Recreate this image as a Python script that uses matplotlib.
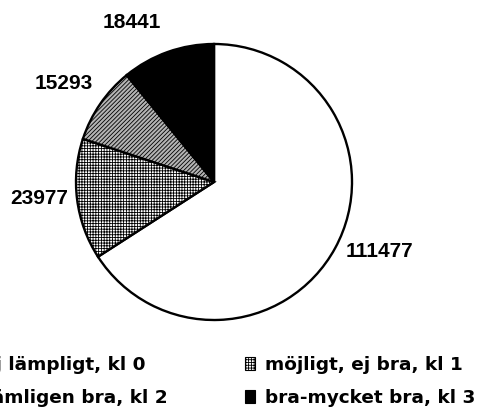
import matplotlib
matplotlib.use("Agg")
import matplotlib.pyplot as plt

categories = ["ej lämpligt, kl 0", "möjligt, ej bra, kl 1", "tämligen bra, kl 2", "bra-mycket bra, kl 3"]
values = [111477, 23977, 15293, 18441]
value_labels = [str(v) for v in values]

colors = ["white", "white", "#b4b4b4", "black"]
hatches = ["", "++++++", "////////", ""]

plt.rcParams["hatch.linewidth"] = 0.6

W, H = 484, 416
fig = plt.figure(figsize=(W / 100, H / 100), dpi=100)
fig.patch.set_facecolor("white")

cx, cy, r = 214, 182, 138
ax = fig.add_axes([(cx - r) / W, (H - cy - r) / H, 2 * r / W, 2 * r / H])

wedges, texts = ax.pie(
    values,
    labels=value_labels,
    startangle=90,
    counterclock=False,
    colors=colors,
    hatch=hatches,
    wedgeprops=dict(edgecolor="black", linewidth=1.7),
    textprops=dict(family="Liberation Sans", fontweight="bold", fontsize=15, color="black"),
    labeldistance=1.2,
)
ax.set_xlim(-1, 1)
ax.set_ylim(-1, 1)
ax.set_aspect("equal")
ax.axis("off")

# label placement (data units, radius = 1)
label_pos = [(1.196, -0.507), (-1.268, -0.116), (-1.087, 0.717), (-0.598, 1.159)]
for t, (x, y) in zip(texts, label_pos):
    t.set_position((x, y))
    t.set_ha("center")
    t.set_va("center")

leg_kw = dict(
    loc="upper left",
    frameon=False,
    borderpad=0,
    borderaxespad=0,
    handlelength=0.55,
    handleheight=0.7,
    handletextpad=0.55,
    labelspacing=0.83,
    prop=dict(family="DejaVu Sans", weight="bold", size=13.3),
    bbox_transform=fig.transFigure,
)
leg1 = fig.legend([wedges[0], wedges[2]], [categories[0], categories[2]],
                  bbox_to_anchor=(-37 / W, 1 - 356 / H), **leg_kw)
leg2 = fig.legend([wedges[1], wedges[3]], [categories[1], categories[3]],
                  bbox_to_anchor=(245 / W, 1 - 356 / H), **leg_kw)
for leg in (leg1, leg2):
    for h in leg.legend_handles:
        h.set_linewidth(0.8)

fig.savefig("out.png", dpi=100, facecolor="white")
